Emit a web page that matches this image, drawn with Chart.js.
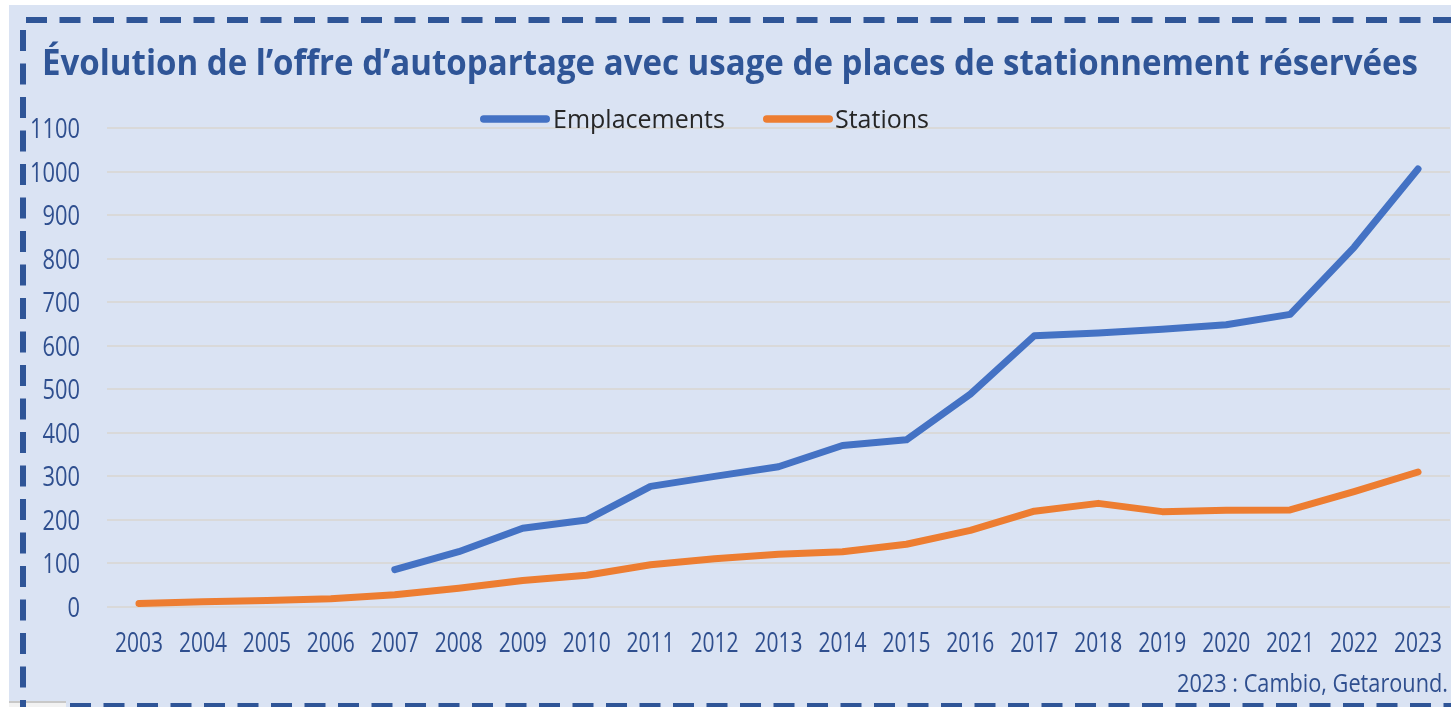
<!DOCTYPE html>
<html>
<head>
<meta charset="utf-8">
<script src="https://cdn.jsdelivr.net/npm/chart.js@4.4.1/dist/chart.umd.min.js"></script>
<style>
  html, body { margin: 0; padding: 0; background: #fff; overflow: hidden; }
  canvas { display: block; }
</style>
</head>
<body>
<canvas id="chart" width="1451" height="707"></canvas>
<script>
// values
const years = ["2003", "2004", "2005", "2006", "2007", "2008", "2009", "2010", "2011", "2012",
  "2013", "2014", "2015", "2016", "2017", "2018", "2019", "2020", "2021", "2022", "2023"];
const emplacements = [null, null, null, null, 86, 127, 181, 200, 277, 300,
  322, 371, 384, 489, 623, 629, 638, 648, 672, 826, 1006];
const stations = [8, 12, 15, 19, 28, 43, 61, 73, 97, 111,
  121, 127, 144, 176, 220, 238, 219, 222, 223, 265, 310];
const yTicks = [0, 100, 200, 300, 400, 500, 600, 700, 800, 900, 1000, 1100];
const seriesNames = ["Emplacements", "Stations"];
const titleText = "Évolution de l’offre d’autopartage avec usage de places de stationnement réservées";
const sourceText = "2023 : Cambio, Getaround.";

const sans = '"Open Sans", "Noto Sans", sans-serif';
const tickColor = "#2f4f8f";
const frameBlue = "#2f5597";

// squeeze a text so it spans a given width
function fitText(ctx, text, x, y, width) {
  const w = ctx.measureText(text).width;
  ctx.save();
  ctx.translate(x, y);
  ctx.scale(width / w, 1);
  ctx.textAlign = "left";
  ctx.fillText(text, 0, 0);
  ctx.restore();
}

// condensed look: draw with a horizontal squeeze
function narrowText(ctx, text, x, y, squeeze, align) {
  ctx.save();
  ctx.translate(x, y);
  ctx.scale(squeeze, 1);
  ctx.textAlign = align;
  ctx.fillText(text, 0, 0);
  ctx.restore();
}

const framePlugin = {
  id: "frame",
  beforeDraw(chart) {
    const ctx = chart.ctx;
    const W = chart.width, H = chart.height;
    ctx.save();
    ctx.fillStyle = "#ffffff";
    ctx.fillRect(0, 0, W, H);
    ctx.fillStyle = "#dae3f3";
    ctx.fillRect(9, 5, W - 9, H - 5);

    // small grey corner at the bottom left
    ctx.fillStyle = "#c8c8c8";
    ctx.fillRect(9, 701, 57, 2);
    ctx.fillStyle = "#f2f2f2";
    ctx.fillRect(9, 703, 57, 4);

    // dashed frame
    ctx.strokeStyle = frameBlue;
    ctx.lineWidth = 6;
    ctx.setLineDash([21, 12.5]);
    ctx.beginPath();
    ctx.moveTo(26, 20);
    ctx.lineTo(W, 20);
    ctx.stroke();
    ctx.beginPath();
    ctx.moveTo(23, 30);
    ctx.lineTo(23, H);
    ctx.stroke();
    ctx.beginPath();
    ctx.moveTo(70, 706);
    ctx.lineTo(W, 706);
    ctx.stroke();
    ctx.restore();
  },
  afterDraw(chart) {
    const ctx = chart.ctx;
    ctx.save();
    ctx.textBaseline = "alphabetic";

    // title
    ctx.fillStyle = frameBlue;
    ctx.font = "bold 35px " + sans;
    fitText(ctx, titleText, 42, 75, 1376);

    // tick labels, placed by the scales
    ctx.fillStyle = tickColor;
    ctx.font = "28px " + sans;
    const xs = chart.scales.x, ys = chart.scales.y;
    xs.ticks.forEach(function (t, i) {
      narrowText(ctx, years[i], xs.getPixelForTick(i), 652, 0.75, "center");
    });
    ys.ticks.forEach(function (t) {
      narrowText(ctx, String(t.value), 80, ys.getPixelForValue(t.value) + 10, 0.78, "right");
    });

    // legend
    const spots = [{ x: 480, tx: 553 }, { x: 763, tx: 835 }];
    chart.data.datasets.forEach(function (ds, i) {
      const s = spots[i];
      ctx.strokeStyle = ds.borderColor;
      ctx.lineWidth = 7.5;
      ctx.lineCap = "round";
      ctx.beginPath();
      ctx.moveTo(s.x + 3.75, 119);
      ctx.lineTo(s.x + 70 - 3.75, 119);
      ctx.stroke();
      ctx.fillStyle = "#262626";
      ctx.font = "25px " + sans;
      ctx.textAlign = "left";
      ctx.fillText(ds.label, s.tx, 128);
    });

    // source
    ctx.fillStyle = tickColor;
    ctx.font = "25px " + sans;
    fitText(ctx, sourceText, 1177, 692, 271);
    ctx.restore();
  }
};

new Chart(document.getElementById("chart"), {
  type: "line",
  data: {
    labels: years,
    datasets: [
      { label: seriesNames[0], data: emplacements, borderColor: "#4472c4", backgroundColor: "#4472c4" },
      { label: seriesNames[1], data: stations, borderColor: "#ed7d31", backgroundColor: "#ed7d31" }
    ]
  },
  options: {
    responsive: false,
    animation: false,
    layout: { padding: { left: 10, right: 1, top: 128, bottom: 40 } },
    plugins: {
      legend: { display: false },
      title: { display: false },
      tooltip: { enabled: false }
    },
    elements: {
      point: { radius: 0 },
      line: { tension: 0, borderWidth: 7, borderCapStyle: "round", borderJoinStyle: "round" }
    },
    scales: {
      x: {
        offset: true,
        grid: { display: false, drawTicks: false },
        border: { display: false },
        ticks: { display: false, autoSkip: false },
        afterFit: function (s) { s.height = 60; }
      },
      y: {
        min: 0,
        max: 1100,
        grid: { color: "#d9d9d9", lineWidth: 2, drawTicks: false },
        border: { display: false },
        ticks: { display: false },
        afterBuildTicks: function (s) { s.ticks = yTicks.map(v => ({ value: v })); },
        afterFit: function (s) { s.width = 97; }
      }
    }
  },
  plugins: [framePlugin]
});
</script>
</body>
</html>
